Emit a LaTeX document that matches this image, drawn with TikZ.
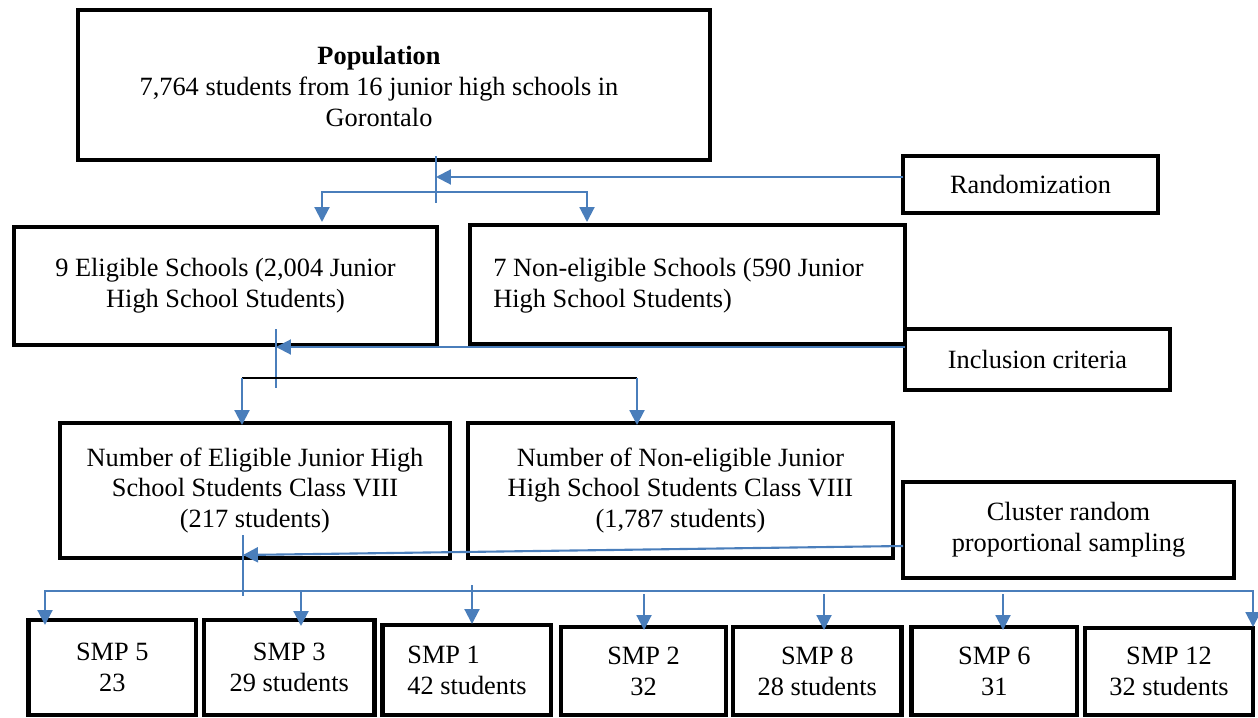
\documentclass[tikz,border=0pt]{standalone}
\usepackage{fontspec}
\setmainfont{Liberation Serif}
\usetikzlibrary{arrows.meta}
\definecolor{lineblue}{HTML}{4A7EBB}
\tikzset{
  box/.style={draw=black, line width=2.8pt, inner sep=0pt, align=center},
  conn/.style={draw=lineblue, line width=1.2pt},
  arr/.style={conn, -{Triangle[length=8.5pt,width=8.5pt]}},
  dblarr/.style={conn, {Triangle[length=8.5pt,width=8.5pt]}-{Triangle[length=8.5pt,width=8.5pt]}},
  txt/.style={inner sep=0pt},
}
\newcommand\mybox[6]{\node[box, minimum width={(#4-#2)*0.02cm}, minimum height={(#5-#3)*0.02cm}] (#1) at ({(#2+#4)/2},{(#3+#5)/2}) {#6};}
\begin{document}
\begin{tikzpicture}[x=0.02cm,y=-0.02cm, font=\fontsize{15}{17.6}\selectfont]
\useasboundingbox (0,0) rectangle (1258,717);
% boxes
\mybox{pop}{78}{10}{710}{160}{}
\node[txt, align=center] (poptxt) at (379,86.5) {\textbf{Population}\\7,764 students from 16 junior high schools in\\Gorontalo};
\mybox{rand}{903}{156}{1158}{213}{Randomization}
\mybox{elig}{14}{227}{437}{345}{9 Eligible Schools (2,004 Junior\\High School Students)}
\mybox{nonelig}{470}{225}{905}{344}{}
\node[txt, align=left, anchor=west] (noneligtxt) at (493,285.5) {7 Non-eligible Schools (590 Junior\\High School Students)};
\mybox{incl}{905}{329}{1170}{390}{Inclusion criteria}
\mybox{num}{60}{423}{450}{558}{Number of Eligible Junior High\\School Students Class VIII\\(217 students)}
\mybox{numnon}{468}{423}{893}{558}{Number of Non-eligible Junior\\High School Students Class VIII\\(1,787 students)}
\mybox{clus}{903}{482}{1234}{578}{Cluster random\\proportional sampling}
% SMP boxes
\mybox{s5}{28.6}{620}{196}{715}{SMP 5\\23}
\mybox{s3}{204}{620}{374.5}{715}{SMP 3\\29 students}
\mybox{s1}{382.7}{625}{551}{715}{}
\node[txt, align=left, anchor=west] (s1txt) at (407,670) {SMP 1\\42 students};
\mybox{s2}{561}{627}{726}{715}{SMP 2\\32}
\mybox{s8}{733}{627}{901.5}{715}{SMP 8\\28 students}
\mybox{s6}{911.7}{627}{1077}{715}{SMP 6\\31}
\mybox{s12}{1085}{628}{1253}{715}{SMP 12\\32 students}
% connectors level 1
\coordinate (v1a) at (436,156);
\coordinate (v1b) at (436,203);
\draw[conn] (v1a) -- (v1b);
\coordinate (r1) at (903,177);
\coordinate (r2) at (436,177);
\draw[arr] (r1) -- (r2);
\coordinate (b1l) at (322,222);
\coordinate (b1r) at (587,222);
\draw[dblarr] (b1l) -- (322,192) -- (587,192) -- (b1r);
% connectors level 2
\coordinate (v2a) at (276,329);
\coordinate (v2b) at (276,388);
\draw[conn] (v2a) -- (v2b);
\coordinate (i1) at (905,347);
\coordinate (i2) at (276,347);
\draw[arr] (i1) -- (i2);
\coordinate (b2l) at (242,378);
\coordinate (b2r) at (637,378);
\draw[black, line width=0.8pt] (b2l) -- (b2r);
\draw[arr] (b2l) -- (242,425);
\draw[arr] (b2r) -- (637,425);
% connectors level 3
\coordinate (v3a) at (243,535);
\coordinate (v3b) at (243,596);
\draw[conn] (v3a) -- (v3b);
\coordinate (c1) at (903,546);
\coordinate (c2) at (243,555);
\draw[arr] (c1) -- (c2);
\coordinate (b3l) at (45,625);
\coordinate (b3r) at (1253,627);
\draw[dblarr] (b3l) -- (45,591) -- (1253,591) -- (b3r);
\draw[arr] (301,591) -- (301,626);
\draw[arr] (472,585) -- (472,624);
\draw[arr] (644,594) -- (644,630);
\draw[arr] (824,594) -- (824,630);
\draw[arr] (1003,594) -- (1003,630);
\end{tikzpicture}
\end{document}
